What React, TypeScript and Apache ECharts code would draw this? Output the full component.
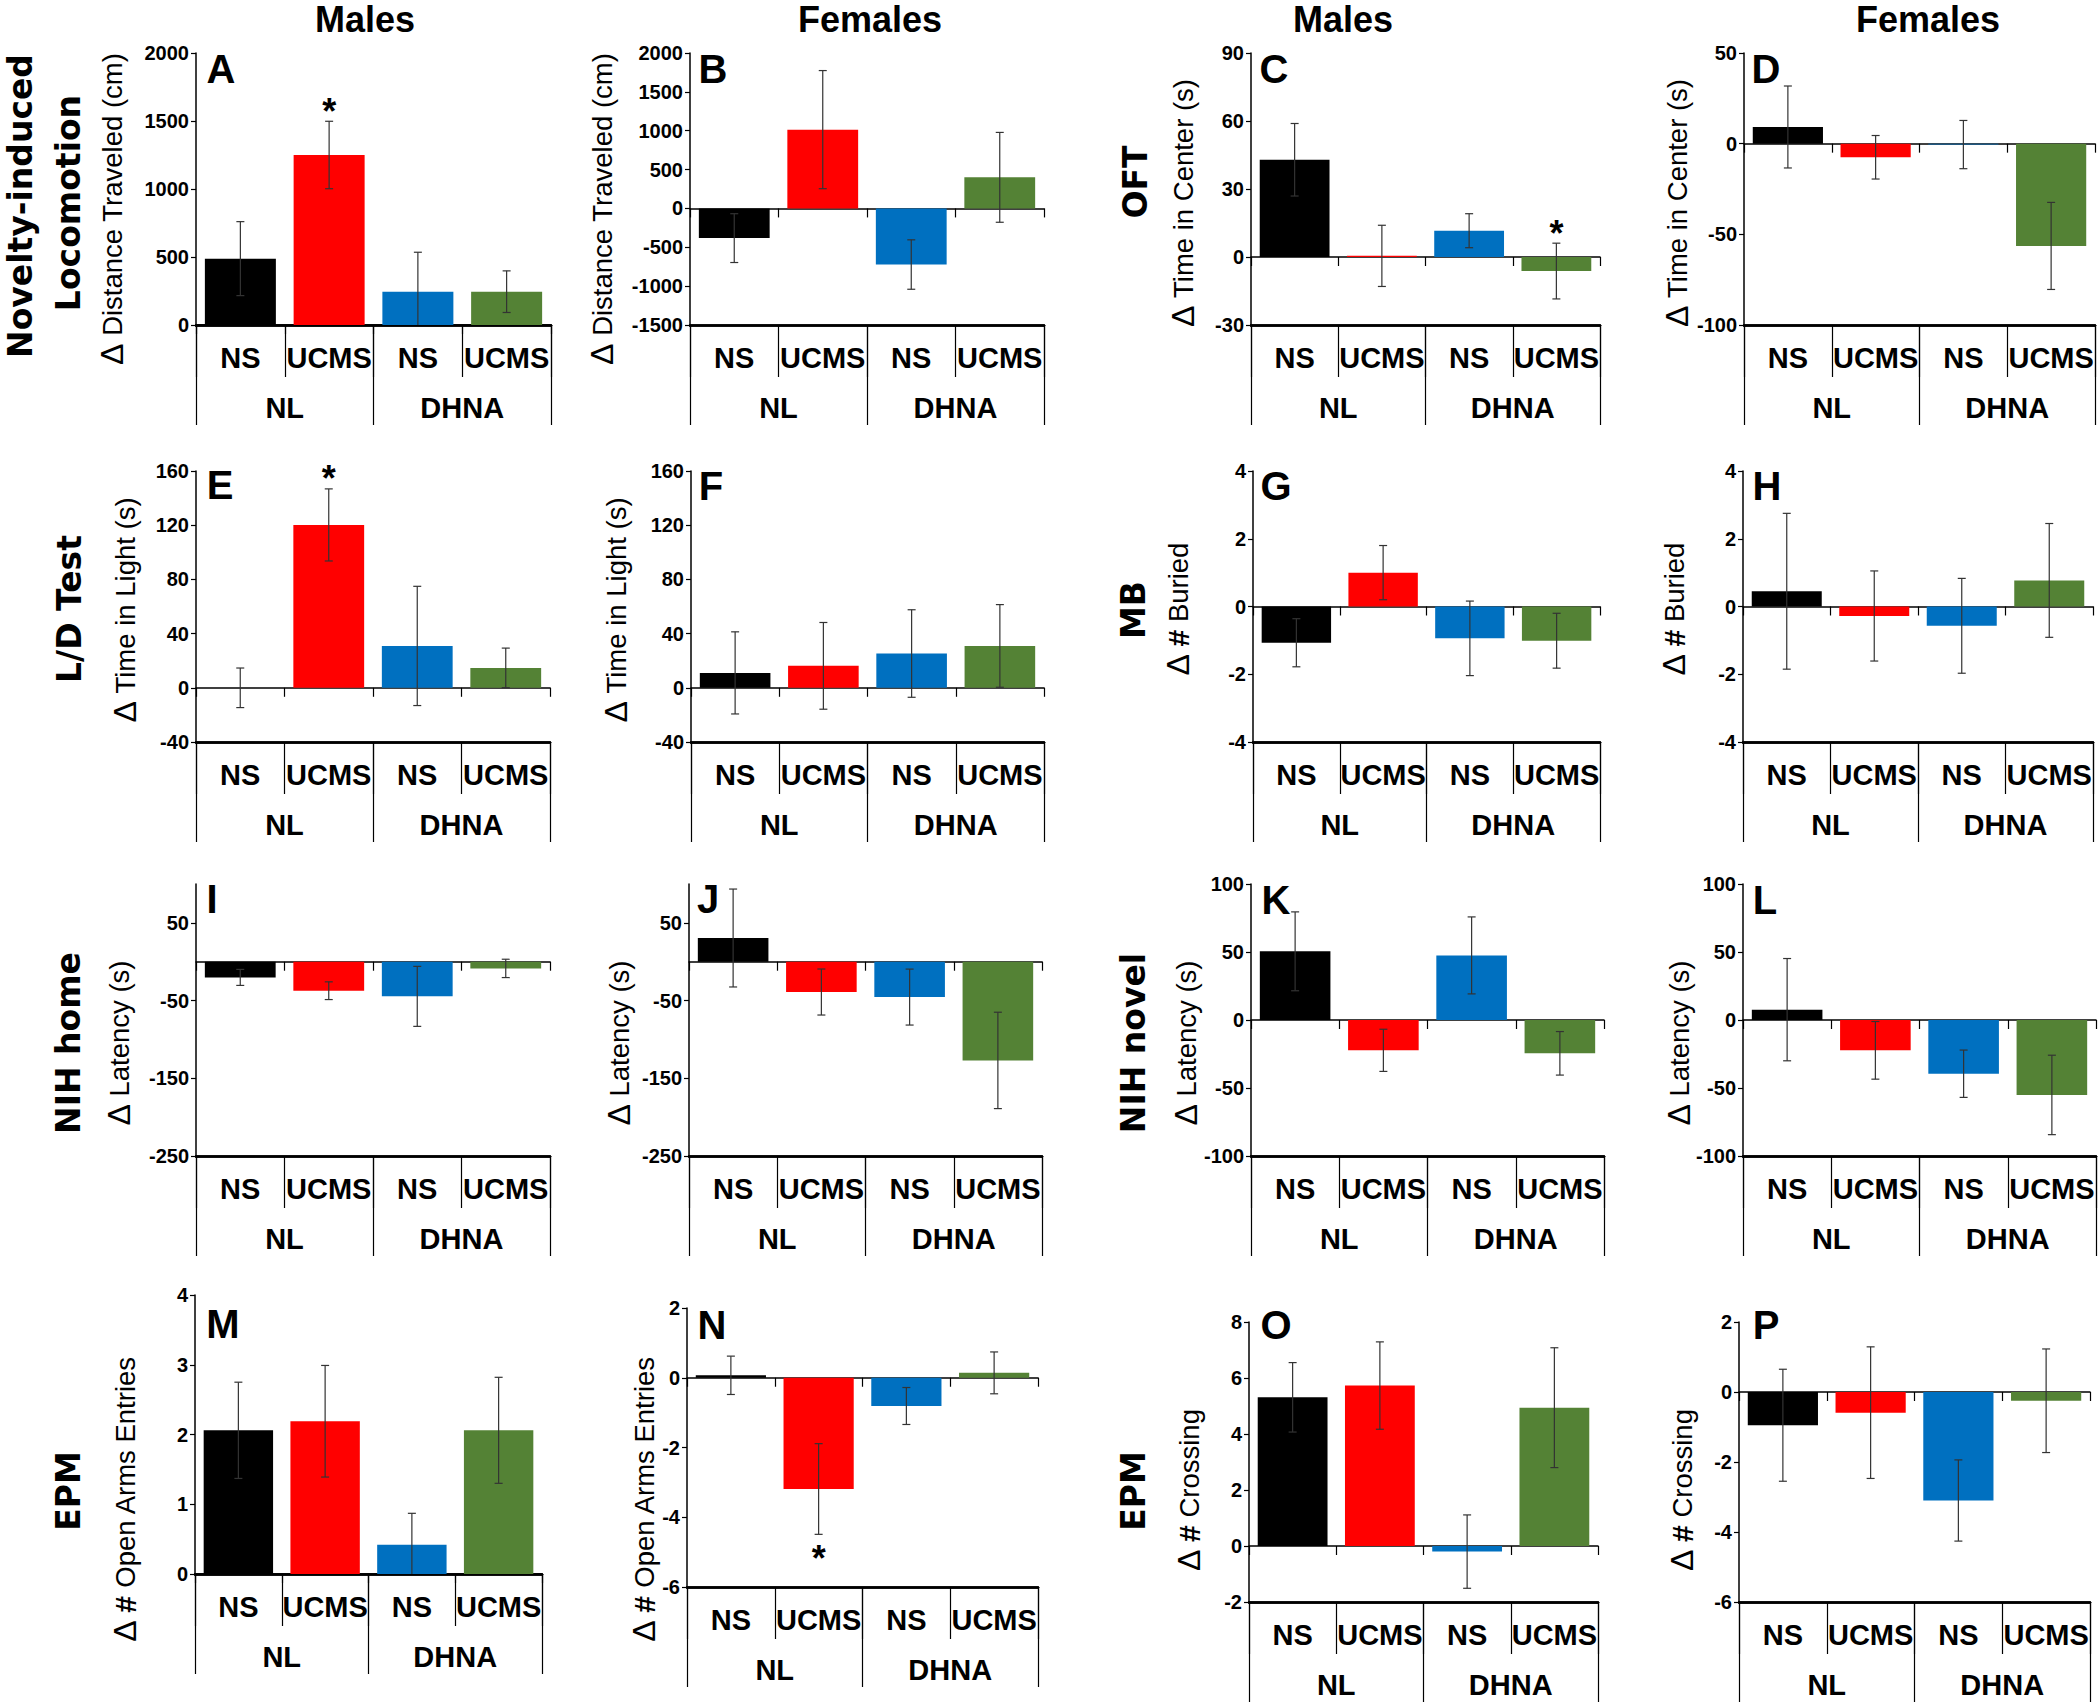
import React, { useEffect, useRef } from "react";
import * as echarts from "echarts";

// ---------------- data ----------------
const groupKeys = ["NL NS", "NL UCMS", "DHNA NS", "DHNA UCMS"];
const stressLabels = ["NS", "UCMS", "NS", "UCMS"];
const dietLabels = ["NL", "DHNA"];
const columnTitles = ["Males", "Females", "Males", "Females"];
const barColors = ["#000000", "#FF0000", "#0070C0", "#548235"];

// [min, max, interval] of each value axis
const A_ticks = [0, 2000, 500];
const A_mean = [488, 1250, 245, 245];
const A_sem = [272, 248, 290, 153];
const A_sig = [0, 1, 0, 0];

const B_ticks = [-1500, 2000, 500];
const B_mean = [-382, 1014, -722, 400];
const B_sem = [314, 760, 318, 578];
const B_sig = [0, 0, 0, 0];

const C_ticks = [-30, 90, 30];
const C_mean = [42.9, 0.5, 11.6, -6.2];
const C_sem = [16, 13.5, 7.5, 12.3];
const C_sig = [0, 0, 0, 1];

const D_ticks = [-100, 50, 50];
const D_mean = [9.2, -7.5, -0.5, -56.4];
const D_sem = [22.6, 12, 13.3, 24];
const D_sig = [0, 0, 0, 0];

const E_ticks = [-40, 160, 40];
const E_mean = [0, 120.2, 30.9, 14.7];
const E_sem = [14.6, 26.6, 44, 14.6];
const E_sig = [0, 1, 0, 0];

const F_ticks = [-40, 160, 40];
const F_mean = [11, 16.2, 25.3, 30.9];
const F_sem = [30.3, 32, 32.3, 30.5];
const F_sig = [0, 0, 0, 0];

const G_ticks = [-4, 4, 2];
const G_mean = [-1.07, 1.0, -0.94, -1.01];
const G_sem = [0.71, 0.8, 1.1, 0.81];
const G_sig = [0, 0, 0, 0];

const H_ticks = [-4, 4, 2];
const H_mean = [0.45, -0.28, -0.57, 0.77];
const H_sem = [2.3, 1.33, 1.4, 1.68];
const H_sig = [0, 0, 0, 0];

const I_ticks = [-250, 100, 100];
const I_mean = [-20.2, -37.3, -44.6, -8.6];
const I_sem = [10.3, 11.4, 38.6, 11.8];
const I_sig = [0, 0, 0, 0];

const J_ticks = [-250, 100, 100];
const J_mean = [30.5, -39, -45.5, -127];
const J_sem = [63, 29.6, 36, 62];
const J_sig = [0, 0, 0, 0];

const K_ticks = [-100, 100, 50];
const K_mean = [50.5, -22.3, 47.5, -24.5];
const K_sem = [29, 15.5, 28.3, 16];
const K_sig = [0, 0, 0, 0];

const L_ticks = [-100, 100, 50];
const L_mean = [7.6, -22.3, -39.5, -55.1];
const L_sem = [37.6, 21.2, 17.4, 29.2];
const L_sig = [0, 0, 0, 0];

const M_ticks = [0, 4, 1];
const M_mean = [2.06, 2.19, 0.42, 2.06];
const M_sem = [0.69, 0.8, 0.45, 0.76];
const M_sig = [0, 0, 0, 0];

const N_ticks = [-6, 2, 2];
const N_mean = [0.07, -3.19, -0.81, 0.14];
const N_sem = [0.55, 1.3, 0.53, 0.6];
const N_sig = [0, -1, 0, 0];

const O_ticks = [-2, 8, 2];
const O_mean = [5.31, 5.73, -0.2, 4.94];
const O_sem = [1.24, 1.56, 1.31, 2.14];
const O_sig = [0, 0, 0, 0];

const P_ticks = [-6, 2, 2];
const P_mean = [-0.95, -0.59, -3.1, -0.25];
const P_sem = [1.6, 1.88, 1.16, 1.48];
const P_sig = [0, 0, 0, 0];

// y-axis titles: [uses "#", text]
const T_DIST: [boolean, string] = [false, "Distance Traveled (cm)"];
const T_CENTER: [boolean, string] = [false, "Time in Center (s)"];
const T_LIGHT: [boolean, string] = [false, "Time in Light (s)"];
const T_BURIED: [boolean, string] = [true, "Buried"];
const T_LAT: [boolean, string] = [false, "Latency (s)"];
const T_OPEN: [boolean, string] = [true, "Open Arms Entries"];
const T_CROSS: [boolean, string] = [true, "Crossing"];

const rowTitles = [
  ["Novelty-induced", "Locomotion"],
  ["OFT"],
  ["L/D Test"],
  ["MB"],
  ["NIH home"],
  ["NIH novel"],
  ["EPM"],
  ["EPM"],
];

const panels = [
  { id: "A", ticks: A_ticks, mean: A_mean, sem: A_sem, sig: A_sig, title: T_DIST },
  { id: "B", ticks: B_ticks, mean: B_mean, sem: B_sem, sig: B_sig, title: T_DIST },
  { id: "C", ticks: C_ticks, mean: C_mean, sem: C_sem, sig: C_sig, title: T_CENTER },
  { id: "D", ticks: D_ticks, mean: D_mean, sem: D_sem, sig: D_sig, title: T_CENTER },
  { id: "E", ticks: E_ticks, mean: E_mean, sem: E_sem, sig: E_sig, title: T_LIGHT },
  { id: "F", ticks: F_ticks, mean: F_mean, sem: F_sem, sig: F_sig, title: T_LIGHT },
  { id: "G", ticks: G_ticks, mean: G_mean, sem: G_sem, sig: G_sig, title: T_BURIED },
  { id: "H", ticks: H_ticks, mean: H_mean, sem: H_sem, sig: H_sig, title: T_BURIED },
  { id: "I", ticks: I_ticks, mean: I_mean, sem: I_sem, sig: I_sig, title: T_LAT },
  { id: "J", ticks: J_ticks, mean: J_mean, sem: J_sem, sig: J_sig, title: T_LAT },
  { id: "K", ticks: K_ticks, mean: K_mean, sem: K_sem, sig: K_sig, title: T_LAT },
  { id: "L", ticks: L_ticks, mean: L_mean, sem: L_sem, sig: L_sig, title: T_LAT },
  { id: "M", ticks: M_ticks, mean: M_mean, sem: M_sem, sig: M_sig, title: T_OPEN },
  { id: "N", ticks: N_ticks, mean: N_mean, sem: N_sem, sig: N_sig, title: T_OPEN },
  { id: "O", ticks: O_ticks, mean: O_mean, sem: O_sem, sig: O_sig, title: T_CROSS },
  { id: "P", ticks: P_ticks, mean: P_mean, sem: P_sem, sig: P_sig, title: T_CROSS },
];

// ---------------- layout (pixels) ----------------
// plot rect (left, top, width, height), panel-letter centre, y-title centre
const layout: Record<string, number[]> = {
  A: [196, 53, 355, 272, 221, 69, 112, 209],
  B: [690, 53, 354, 272, 713, 69, 602, 209],
  C: [1251, 53, 349, 272, 1274, 69, 1183, 203],
  D: [1744, 53, 351, 272, 1766, 69, 1677, 203],
  E: [196, 471, 354, 271, 220, 485, 125, 610],
  F: [691, 471, 353, 271, 711, 486, 616, 610],
  G: [1253, 471, 347, 271, 1276, 486, 1178, 609],
  H: [1743, 471, 350, 271, 1767, 486, 1674, 609],
  I: [196, 884, 354, 272, 212, 899, 119, 1043],
  J: [689, 884, 353, 272, 708, 899, 619, 1043],
  K: [1251, 884, 353, 272, 1276, 900, 1186, 1043],
  L: [1743, 884, 353, 272, 1765, 900, 1679, 1043],
  M: [195, 1295, 347, 279, 223, 1324, 125, 1499],
  N: [687, 1308, 351, 279, 712, 1325, 644, 1499],
  O: [1249, 1322, 349, 280, 1276, 1325, 1189, 1490],
  P: [1739, 1322, 351, 280, 1766, 1325, 1682, 1490],
};
const columnTitlePos = [[365, 1], [870, 1], [1343, 1], [1928, 1]];
const rowTitlePos = [
  [[20, 206], [68, 203]],
  [[1135, 182]],
  [[69, 609]],
  [[1133, 610]],
  [[68, 1043]],
  [[1133, 1043]],
  [[68, 1491]],
  [[1133, 1491]],
];

const SANS = "Liberation Sans, Arial, sans-serif";
const WIDE = "DejaVu Sans, Verdana, sans-serif";

function makeErrorRenderer(min: number, max: number) {
  return (params: any, api: any) => {
    const k = api.value(0);
    const m = api.value(1);
    const e = api.value(2);
    const s = api.value(3);
    const hiV = Math.min(m + e, max);
    const loV = Math.max(m - e, min);
    const hi = api.coord([k, hiV]);
    const lo = api.coord([k, loV]);
    const x = hi[0];
    const cap = 4;
    const st = { stroke: "#333333", lineWidth: 1.2 };
    const children: any[] = [
      { type: "line", shape: { x1: x, y1: hi[1], x2: x, y2: lo[1] }, style: st },
    ];
    if (m + e <= max)
      children.push({ type: "line", shape: { x1: x - cap, y1: hi[1], x2: x + cap, y2: hi[1] }, style: st });
    if (m - e >= min)
      children.push({ type: "line", shape: { x1: x - cap, y1: lo[1], x2: x + cap, y2: lo[1] }, style: st });
    if (s) {
      children.push({
        type: "text",
        x,
        y: s > 0 ? hi[1] - 10 : lo[1] + 24,
        style: {
          text: "*",
          fill: "#000",
          fontSize: 36,
          fontWeight: "bold",
          fontFamily: SANS,
          align: "center",
          verticalAlign: "middle",
        },
      });
    }
    return { type: "group", children };
  };
}

function textEl(text: string, x: number, y: number, size: number, family: string, rot = 0, valign = "middle") {
  return {
    type: "text",
    x,
    y,
    rotation: rot,
    style: {
      text,
      fill: "#000",
      fontSize: size,
      fontWeight: "bold",
      fontFamily: family,
      align: "center",
      verticalAlign: valign,
      textAlign: "center",
      textVerticalAlign: valign,
    },
  };
}

function buildOption() {
  const grid: any[] = [];
  const xAxis: any[] = [];
  const yAxis: any[] = [];
  const series: any[] = [];
  const graphic: any[] = [];

  panels.forEach((p, i) => {
    const [left, top, width, height, lx, ly, tx, ty] = layout[p.id];
    const [min, max, interval] = p.ticks;
    grid.push({ left, top, width, height, containLabel: false });

    yAxis.push({
      type: "value",
      gridIndex: i,
      min,
      max,
      interval,
      axisLine: { show: true, onZero: false, lineStyle: { color: "#000", width: 1.5 } },
      axisTick: { show: true, length: 5, lineStyle: { color: "#000", width: 1.2 } },
      axisLabel: {
        color: "#000",
        fontSize: 20,
        fontWeight: "bold",
        fontFamily: SANS,
        margin: 7,
        showMaxLabel: (max - min) % interval === 0,
        formatter: (v: number) => String(v),
      },
      splitLine: { show: false },
    });

    // zero line axis
    xAxis.push({
      type: "category",
      gridIndex: i,
      data: groupKeys,
      position: "bottom",
      boundaryGap: true,
      axisLine: { show: true, onZero: true, lineStyle: { color: "#000", width: 1.5 } },
      axisTick: { show: true, interval: 0, length: 9, lineStyle: { color: "#000", width: 1.2 } },
      axisLabel: { show: false },
      splitLine: { show: false },
    });
    // stress level labels
    xAxis.push({
      type: "category",
      gridIndex: i,
      data: stressLabels,
      position: "bottom",
      boundaryGap: true,
      axisLine: { show: true, onZero: false, lineStyle: { color: "#000", width: 2.5 } },
      axisTick: { show: true, interval: 0, length: 52, lineStyle: { color: "#000", width: 1.2 } },
      axisLabel: {
        interval: 0,
        margin: 18,
        fontSize: 29,
        fontWeight: "bold",
        color: "#000",
        fontFamily: SANS,
      },
      splitLine: { show: false },
    });
    // diet labels
    xAxis.push({
      type: "category",
      gridIndex: i,
      data: dietLabels,
      position: "bottom",
      boundaryGap: true,
      axisLine: { show: true, onZero: false, lineStyle: { color: "#000", width: 2.5 } },
      axisTick: { show: true, interval: 0, length: 100, lineStyle: { color: "#000", width: 1.2 } },
      axisLabel: {
        interval: 0,
        margin: 68,
        fontSize: 29,
        fontWeight: "bold",
        color: "#000",
        fontFamily: SANS,
      },
      splitLine: { show: false },
    });

    series.push({
      type: "bar",
      xAxisIndex: 3 * i,
      yAxisIndex: i,
      barCategoryGap: "20%",
      data: p.mean.map((v, k) => ({ value: v, itemStyle: { color: barColors[k] } })),
      z: 2,
    });
    series.push({
      type: "custom",
      xAxisIndex: 3 * i,
      yAxisIndex: i,
      clip: false,
      z: 5,
      encode: { x: 0, y: 1 },
      data: p.mean.map((v, k) => [k, v, p.sem[k], p.sig[k]]),
      renderItem: makeErrorRenderer(min, max),
    });

    graphic.push(textEl(p.id, lx, ly, 40, SANS));
    const [hasHash, label] = p.title;
    graphic.push({
      type: "text",
      x: tx,
      y: ty,
      rotation: Math.PI / 2,
      style: {
        text: hasHash ? `{d|Δ} {h|#} {t|${label}}` : `{d|Δ} {t|${label}}`,
        rich: {
          d: { fontSize: 32, fontWeight: "normal", fontFamily: SANS, fill: "#000" },
          h: { fontSize: 30, fontWeight: "bold", fontFamily: SANS, fill: "#000" },
          t: { fontSize: 27.5, fontWeight: "normal", fontFamily: SANS, fill: "#000" },
        },
        fill: "#000",
        fontSize: 27.5,
        fontFamily: SANS,
        align: "center",
        verticalAlign: "middle",
        textAlign: "center",
        textVerticalAlign: "middle",
      },
    });
  });

  columnTitles.forEach((t, c) => {
    graphic.push(textEl(t, columnTitlePos[c][0], columnTitlePos[c][1], 36, SANS, 0, "top"));
  });
  rowTitles.forEach((lines, r) => {
    lines.forEach((t, j) => {
      const [x, y] = rowTitlePos[r][j];
      graphic.push(textEl(t, x, y, 33, WIDE, Math.PI / 2));
    });
  });

  return {
    animation: false,
    backgroundColor: "#ffffff",
    textStyle: { fontFamily: SANS },
    grid,
    xAxis,
    yAxis,
    series,
    graphic: { elements: graphic },
  };
}

export default function App() {
  const ref = useRef<HTMLDivElement>(null);
  useEffect(() => {
    document.body.style.margin = "0";
    if (!ref.current) return;
    const chart = echarts.init(ref.current, undefined, { renderer: "svg" });
    chart.setOption(buildOption() as any);
    return () => chart.dispose();
  }, []);
  return <div ref={ref} style={{ width: 2100, height: 1703, background: "#fff" }} />;
}
